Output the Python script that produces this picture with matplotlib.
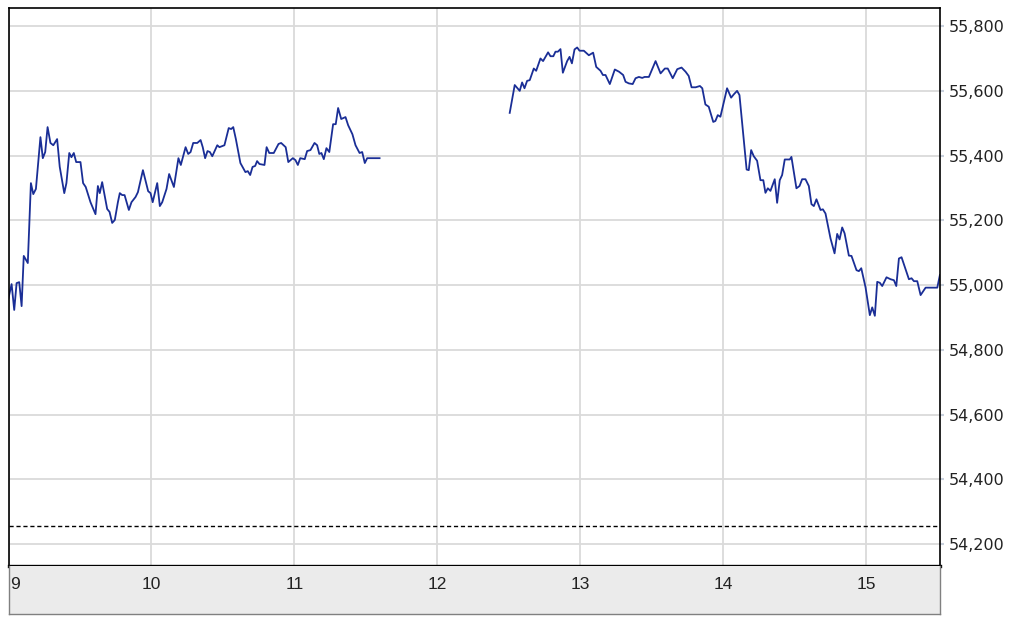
import numpy as np
import matplotlib.pyplot as plt
from matplotlib.ticker import FuncFormatter

# minutes after 9:00 and index level, morning session
am_minutes = [0, 1.3, 2.4, 3.4, 4.5, 5.5, 6.4, 8.1, 9.4, 10.4,
              11.5, 13.4, 14.4, 15.4, 16.4, 17.6, 18.8, 20.4, 21.5, 23.4,
              24.3, 25.5, 26.4, 27.4, 28.4, 30.2, 31.3, 32.4, 34.4, 36.5,
              37.5, 38.3, 39.3, 41.4, 42.4, 43.5, 44.6, 45.9, 46.7, 47.7,
              48.7, 50.5, 51.6, 53.3, 54.3, 56.4, 58.6, 59.6, 60.5, 62.4,
              63.5, 64.5, 66.3, 67.4, 69.4, 71.3, 72.3, 74.3, 75.4, 76.4,
              77.5, 79.2, 80.6, 81.5, 82.5, 83.5, 84.5, 85.5, 87.6, 88.5,
              90.6, 92.4, 93.4, 94.3, 95.4, 97.3, 99.4, 100.4, 101.4, 102.4,
              103.5, 104.3, 105.3, 107.4, 108.3, 109.4, 111.3, 113.3, 114.4, 116.3,
              117.4, 119.3, 120.4, 121.4, 122.4, 124.3, 125.3, 126.7, 128.4, 129.5,
              130.4, 131.3, 132.3, 133.4, 134.6, 136.2, 137.3, 138.3, 139.6, 141.4,
              142.5, 144.3, 145.6, 147.3, 148.4, 149.5, 150.5, 155.7]
am_prices = [54960, 55003, 54923, 55006, 55009, 54935, 55090, 55068, 55315, 55281,
             55297, 55457, 55392, 55411, 55488, 55439, 55432, 55451, 55365, 55284,
             55315, 55408, 55395, 55408, 55380, 55380, 55315, 55303, 55256, 55219,
             55306, 55284, 55318, 55235, 55226, 55192, 55201, 55256, 55284, 55278,
             55278, 55232, 55256, 55272, 55287, 55355, 55290, 55284, 55256, 55315,
             55244, 55256, 55297, 55343, 55303, 55392, 55371, 55426, 55405, 55411,
             55439, 55439, 55448, 55426, 55392, 55414, 55411, 55398, 55432, 55426,
             55432, 55485, 55482, 55488, 55451, 55377, 55349, 55352, 55340, 55365,
             55368, 55383, 55374, 55371, 55426, 55408, 55408, 55436, 55439, 55426,
             55380, 55392, 55386, 55371, 55392, 55389, 55414, 55417, 55439, 55432,
             55405, 55408, 55389, 55423, 55411, 55497, 55497, 55547, 55513, 55519,
             55494, 55466, 55432, 55408, 55411, 55377, 55392, 55392]

# afternoon session
pm_minutes = [210.3, 212.4, 214.5, 215.5, 216.5, 217.6, 218.7, 220.4, 221.4, 223.2,
              224.3, 226.4, 227.4, 228.6, 229.5, 230.5, 231.6, 232.6, 234.4, 235.4,
              236.4, 237.5, 238.6, 239.6, 241.4, 243.5, 245.3, 246.6, 248.4, 249.4,
              250.5, 252.3, 254.4, 256.2, 257.9, 258.9, 260.3, 261.9, 263.1, 264.5,
              265.9, 266.9, 268.7, 271.5, 273.6, 275.4, 276.6, 278.7, 280.6, 282.4,
              284.1, 285.4, 286.6, 288.3, 290.1, 291.1, 292.4, 293.8, 295.7, 296.6,
              297.6, 298.7, 301.5, 303.2, 304.3, 305.7, 306.7, 309.7, 310.6, 311.6,
              312.7, 314.1, 315.5, 316.7, 317.6, 318.6, 319.7, 321.5, 322.5, 323.6,
              324.6, 325.7, 327.8, 328.5, 330.6, 331.9, 333.0, 334.4, 335.8, 336.9,
              337.9, 339.0, 340.7, 341.7, 342.8, 344.9, 346.6, 347.7, 348.7, 349.8,
              350.8, 352.6, 353.7, 355.8, 356.8, 357.8, 359.6, 361.4, 362.4, 363.5,
              364.5, 365.6, 366.6, 368.4, 370.1, 371.5, 372.5, 373.6, 374.7, 377.8,
              378.9, 379.9, 381.3, 382.7, 384.8, 389.7, 390.8]
pm_prices = [55532, 55618, 55600, 55626, 55608, 55631, 55633, 55669, 55662, 55700,
             55692, 55719, 55707, 55707, 55721, 55721, 55729, 55656, 55692, 55705,
             55685, 55728, 55734, 55724, 55724, 55710, 55718, 55674, 55662, 55649,
             55649, 55621, 55666, 55659, 55649, 55628, 55623, 55621, 55639, 55643,
             55640, 55643, 55643, 55692, 55654, 55669, 55669, 55639, 55667, 55672,
             55659, 55646, 55611, 55611, 55615, 55608, 55558, 55551, 55504, 55507,
             55525, 55520, 55608, 55579, 55589, 55600, 55587, 55357, 55355, 55417,
             55398, 55384, 55324, 55324, 55285, 55299, 55291, 55327, 55254, 55324,
             55340, 55388, 55388, 55396, 55299, 55306, 55327, 55327, 55306, 55250,
             55244, 55265, 55232, 55234, 55221, 55144, 55098, 55158, 55141, 55178,
             55160, 55091, 55090, 55046, 55043, 55052, 54993, 54907, 54931, 54905,
             55010, 55007, 54997, 55024, 55018, 55015, 54997, 55082, 55086, 55018,
             55021, 55012, 55012, 54969, 54992, 54992, 55031]

prev_close = 54255
price_ticks = [54200, 54400, 54600, 54800, 55000, 55200, 55400, 55600, 55800]
hour_ticks = [9, 10, 11, 12, 13, 14, 15]

LINE_COL = '#1a2e96'
GRID_COL = '#dadada'

fig = plt.figure(figsize=(10.24, 6.26), dpi=100)
W, H = 1024, 626
ax = fig.add_axes([8.5 / W, 60 / H, 931.5 / W, 558 / H])

am_t = 9 + np.array(am_minutes) / 60
pm_t = 9 + np.array(pm_minutes) / 60
ax.plot(am_t, am_prices, color=LINE_COL, lw=1.3)
ax.plot(pm_t, pm_prices, color=LINE_COL, lw=1.3)
ax.axhline(prev_close, color='black', lw=1, ls=(0, (3, 2)))

ax.set_xlim(9, 15.514)
ax.set_ylim(54132, 55856)
ax.set_xticks(hour_ticks)
ax.set_yticks(price_ticks)
ax.grid(True, color=GRID_COL, lw=1.3)
ax.set_axisbelow(True)
ax.tick_params(axis='x', length=0, labelbottom=False)
ax.yaxis.tick_right()
ax.tick_params(axis='y', length=3, width=1.5, color='#c8d0dc', pad=3,
               labelsize=11.5, labelcolor='#222222')
ax.yaxis.set_major_formatter(FuncFormatter(lambda v, p: f'{int(v):,}'))
for s in ['left', 'top', 'right']:
    ax.spines[s].set_linewidth(1.2)
    ax.spines[s].set_color('black')
ax.spines['bottom'].set_linewidth(2.4)
ax.spines['bottom'].set_color('black')

# time band below the chart
band = fig.add_axes([8.5 / W, 12 / H, 931.5 / W, 48 / H], facecolor='#ebebeb')
band.set_xlim(ax.get_xlim())
band.set_ylim(0, 1)
band.set_xticks([])
band.set_yticks([])
for s in ['left', 'right', 'bottom']:
    band.spines[s].set_color('#808080')
    band.spines[s].set_linewidth(1)
band.spines['top'].set_visible(False)
for h in hour_ticks:
    band.text(h + (0.01 if h == 9 else 0), 0.62, str(h),
              ha='left' if h == 9 else 'center', va='center',
              fontsize=12.5, color='#222222', family='Liberation Sans')

fig.savefig('out.png', dpi=100)
